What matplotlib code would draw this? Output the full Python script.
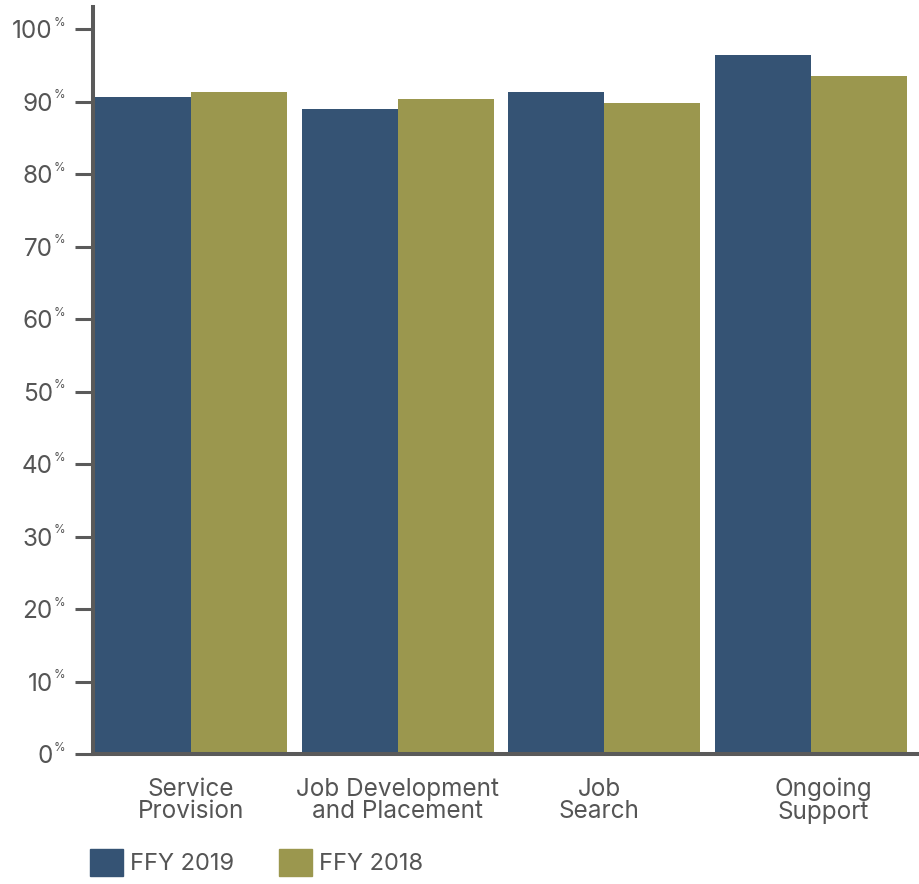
import numpy as np
import matplotlib.pyplot as plt
from matplotlib.patches import Patch

# data
categories = ["Service\nProvision", "Job Development\nand Placement", "Job\nSearch", "Ongoing\nSupport"]
ffy_2019 = [90.7, 89.0, 91.3, 96.5]
ffy_2018 = [91.3, 90.4, 89.9, 93.6]
y_ticks = list(range(0, 101, 10))
series_names = ["FFY 2019", "FFY 2018"]

# style
BLUE = "#355374"
OLIVE = "#9b974e"
AXIS = "#5a5a5a"
TEXT = "#555555"
label_shift = [0.0, 0.0, -0.025, 0.06]

plt.rcParams["font.family"] = ["Inter", "DejaVu Sans"]

fig = plt.figure(figsize=(9.19, 8.84), dpi=100)
ax = fig.add_axes([93/919, 130/884, 826/919, 747/884])

x = np.arange(len(categories))
w = 0.464
ax.bar(x - w/2, ffy_2019, w, color=BLUE, linewidth=0)
ax.bar(x + w/2, ffy_2018, w, color=OLIVE, linewidth=0)

ax.set_xlim(-0.474, 3.522)
ax.set_ylim(0, 103.1)

for s in ["top", "right"]:
    ax.spines[s].set_visible(False)
for s in ["left", "bottom"]:
    ax.spines[s].set_linewidth(2.9)
    ax.spines[s].set_color(AXIS)

ax.set_yticks(y_ticks)
ax.set_yticklabels([str(v) for v in y_ticks])
ax.tick_params(axis="y", length=13, width=2.2, color=AXIS, pad=16,
               labelsize=17.5, labelcolor=TEXT)

ax.set_xticks(x + np.array(label_shift))
ax.set_xticklabels(categories, linespacing=0.98)
ax.tick_params(axis="x", length=0, pad=17, labelsize=17.5, labelcolor=TEXT)

# small superscript percent signs
for v in y_ticks:
    ax.annotate("%", xy=(0, v), xycoords=ax.get_yaxis_transform(),
                xytext=(-28.3, 2.5), textcoords="offset points",
                ha="left", va="baseline", fontsize=8.5, color=TEXT)

handles = [Patch(color=BLUE, label=series_names[0]),
           Patch(color=OLIVE, label=series_names[1])]
fig.legend(handles=handles, loc="upper left", bbox_to_anchor=(90/919, 1 - 849/884),
           ncol=2, frameon=False, fontsize=17, handlelength=1.4, handleheight=1.4,
           handletextpad=0.3, columnspacing=1.9, borderpad=0, borderaxespad=0,
           labelcolor=TEXT)

fig.savefig("out.png", dpi=100)
